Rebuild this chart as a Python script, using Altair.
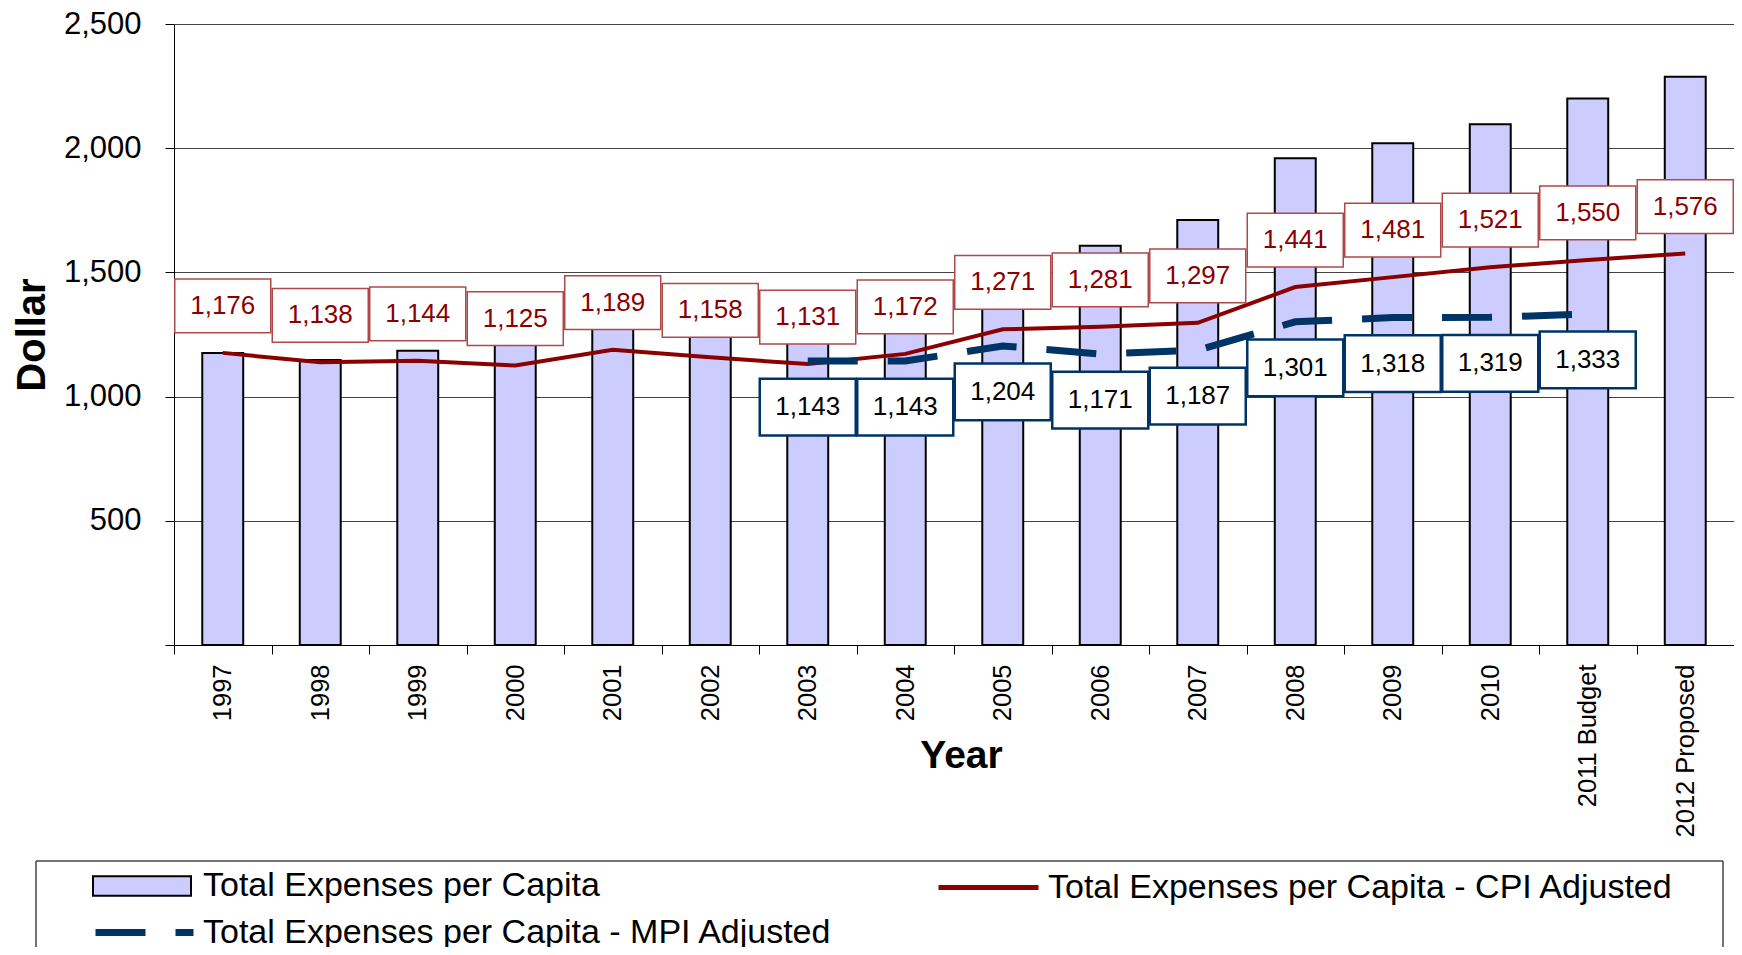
import altair as alt
import pandas as pd

years = ["1997", "1998", "1999", "2000", "2001", "2002", "2003", "2004", "2005",
         "2006", "2007", "2008", "2009", "2010", "2011 Budget", "2012 Proposed"]
total = [1176, 1147, 1185, 1210, 1310, 1310, 1315, 1390, 1557,
         1607, 1711, 1960, 2020, 2096, 2200, 2288]
cpi = [1176, 1138, 1144, 1125, 1189, 1158, 1131, 1172, 1271,
       1281, 1297, 1441, 1481, 1521, 1550, 1576]
mpi_years = ["2003", "2004", "2005", "2006", "2007", "2008", "2009", "2010", "2011 Budget"]
mpi = [1143, 1143, 1204, 1171, 1187, 1301, 1318, 1319, 1333]
series = ["Total Expenses per Capita",
          "Total Expenses per Capita - CPI Adjusted",
          "Total Expenses per Capita - MPI Adjusted"]
y_ticks = [0, 500, 1000, 1500, 2000, 2500]

FONT = "Liberation Sans"
BAR_FILL = "#ccccff"
CPI_COLOR = "#8b0000"
MPI_COLOR = "#003366"

main_df = pd.DataFrame({"Year": years, "Total": total, "CPI": cpi,
                        "s_bar": series[0], "s_cpi": series[1]})
mpi_df = pd.DataFrame({"Year": mpi_years, "MPI": mpi, "s_mpi": series[2]})
frame_df = pd.DataFrame({"k": [0]})

xscale = alt.Scale(domain=years, paddingInner=0, paddingOuter=0)
yscale = alt.Scale(domain=[0, 2500], nice=False)

x_axis = alt.Axis(labelAngle=-90, labelAlign="right", labelBaseline="middle",
                  labelFont=FONT, labelFontSize=25.5, labelColor="black",
                  labelPadding=10, ticks=True, tickBand="extent", tickSize=9,
                  tickColor="black", domainColor="black", domainWidth=1,
                  grid=False, titleFont=FONT, titleFontSize=39,
                  titleFontWeight="bold", titleColor="black",
                  titleX=787, titleY=122, titleBaseline="alphabetic")
y_axis = alt.Axis(values=y_ticks,
                  labelExpr="datum.value == 0 ? '' : format(datum.value, ',')",
                  labelFont=FONT, labelFontSize=31, labelColor="black",
                  labelPadding=24, tickSize=9, tickColor="black",
                  domainColor="black", domainWidth=1,
                  grid=True, gridColor="#444444", gridWidth=1,
                  titleFont=FONT, titleFontSize=40, titleFontWeight="bold",
                  titleColor="black", titleX=-130, titleBaseline="alphabetic")


def X():
    return alt.X("Year:N", sort=years, scale=xscale, title="Year", axis=x_axis)


def Y(field):
    return alt.Y(field, scale=yscale, title="Dollar", axis=y_axis)


legend_common = dict(orient="none", title=None, padding=0, labelFont=FONT,
                     labelFontSize=34, labelColor="black", labelLimit=2000)

bars = alt.Chart(main_df).mark_bar(width={"band": 0.42}, stroke="black", strokeWidth=2).encode(
    x=X(), y=Y("Total:Q"),
    fill=alt.Fill("s_bar:N", scale=alt.Scale(domain=[series[0]], range=[BAR_FILL]),
                  legend=alt.Legend(legendX=-82, legendY=812,
                                    symbolType="M-1,-0.2L1,-0.2L1,0.2L-1,0.2Z",
                                    symbolSize=9604, symbolStrokeColor="black",
                                    symbolStrokeWidth=2, symbolFillColor=BAR_FILL,
                                    labelOffset=11, **legend_common)))

cpi_line = alt.Chart(main_df).mark_line(strokeWidth=4).encode(
    x=X(), y=Y("CPI:Q"),
    stroke=alt.Stroke("s_cpi:N", scale=alt.Scale(domain=[series[1]], range=[CPI_COLOR]),
                      legend=alt.Legend(legendX=762, legendY=811, symbolType="stroke",
                                        symbolSize=10000, symbolStrokeWidth=5,
                                        labelOffset=7, **legend_common)))

mpi_line = alt.Chart(mpi_df).mark_line(strokeWidth=7, color=MPI_COLOR).encode(
    x=X(), y=Y("MPI:Q"),
    strokeDash=alt.StrokeDash("s_mpi:N", scale=alt.Scale(domain=[series[2]], range=[[50, 30]]),
                              legend=alt.Legend(legendX=-82, legendY=856, symbolType="stroke",
                                                symbolSize=9604, symbolStrokeWidth=7,
                                                symbolStrokeColor=MPI_COLOR,
                                                labelOffset=6, **legend_common)))

cpi_box = alt.Chart(main_df).mark_point(
    shape="M-1,-0.56L1,-0.56L1,0.56L-1,0.56Z", size=9216, filled=True,
    fill="white", fillOpacity=1, stroke="#b04848", strokeWidth=1.5, strokeOpacity=1,
    yOffset=-47).encode(x=X(), y=Y("CPI:Q"))
cpi_text = alt.Chart(main_df).mark_text(
    font=FONT, fontSize=26, color=CPI_COLOR, align="center", baseline="middle",
    yOffset=-47).encode(x=X(), y=Y("CPI:Q"), text=alt.Text("CPI:Q", format=","))

mpi_box = alt.Chart(mpi_df).mark_point(
    shape="M-1,-0.59L1,-0.59L1,0.59L-1,0.59Z", size=9216, filled=True,
    fill="white", fillOpacity=1, stroke=MPI_COLOR, strokeWidth=2.5, strokeOpacity=1,
    yOffset=46).encode(x=X(), y=Y("MPI:Q"))
mpi_text = alt.Chart(mpi_df).mark_text(
    font=FONT, fontSize=26, color="black", align="center", baseline="middle",
    yOffset=46).encode(x=X(), y=Y("MPI:Q"), text=alt.Text("MPI:Q", format=","))

frame_style = dict(color="#444444", strokeWidth=1.5)
frame_top = alt.Chart(frame_df).mark_rule(**frame_style).encode(
    x=alt.value(-138), x2=alt.value(1549), y=alt.value(837))
frame_left = alt.Chart(frame_df).mark_rule(**frame_style).encode(
    x=alt.value(-138), y=alt.value(837), y2=alt.value(940))
frame_right = alt.Chart(frame_df).mark_rule(**frame_style).encode(
    x=alt.value(1549), y=alt.value(837), y2=alt.value(940))

chart = alt.layer(
    bars, cpi_line, mpi_line, cpi_box, cpi_text, mpi_box, mpi_text,
    frame_top, frame_left, frame_right
).resolve_legend(fill="independent", stroke="independent", strokeDash="independent").properties(
    width=1560, height=621,
    autosize=alt.AutoSizeParams(type="none"),
    padding={"left": 166, "top": 16, "right": 0, "bottom": 302},
    background="white",
).configure(font=FONT).configure_view(stroke=None)

chart.save("out.html", embed_options={"renderer": "svg", "actions": False})
